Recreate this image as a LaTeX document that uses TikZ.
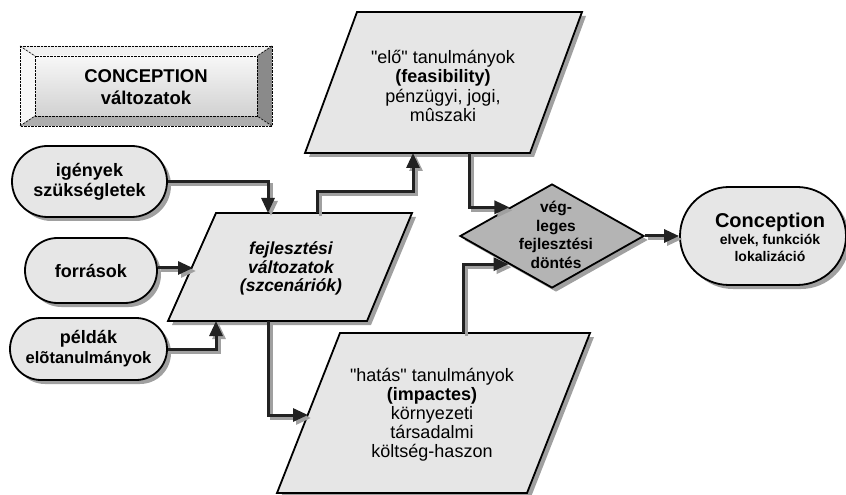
\documentclass[tikz,border=0pt]{standalone}
\usepackage{fontspec}
\setmainfont{Liberation Sans}[Ligatures=TeXOff]
\usetikzlibrary{shapes.misc,shapes.geometric,arrows.meta}
\definecolor{boxfill}{HTML}{E6E6E6}
\definecolor{diafill}{HTML}{B4B4B4}
\definecolor{shadowc}{HTML}{A0A0A0}
\definecolor{linec}{HTML}{222222}
\newcommand\fsz[2]{\fontsize{#1bp}{#2bp}\selectfont}
\newcommand\connect[1]{\draw[connshadow] #1; \draw[conn] #1;}
\begin{document}
\begin{tikzpicture}[x=1bp,y=-1bp,
  shapeline/.style={draw=black, line width=1.8bp, fill=boxfill, line join=miter},
  shad/.style={preaction={fill=shadowc, draw=none, transform canvas={xshift=4bp,yshift=-4bp}}},
  oval/.style={rounded rectangle, shapeline, shad, inner sep=0pt, align=center, font=\bfseries\fsz{18}{20}},
  conn/.style={draw=linec, line width=3bp, line join=miter, -{Triangle[length=15bp,width=13bp]}},
  connshadow/.style={conn, draw=shadowc, transform canvas={xshift=3bp,yshift=-3bp}},
  ptext/.style={align=center, inner sep=0pt},
  bevel/.style={draw=black, line width=0.6bp, dash pattern=on 2.5bp off 1bp}
]
\useasboundingbox (0,0) rectangle (846,495);

% ---- 3D title box ----
\fill[black!6] (20,46) -- (272,46) -- (257,56) -- (35,56) -- cycle;
\fill[black!3] (20,46) -- (35,56) -- (35,116) -- (20,126) -- cycle;
\fill[black!46] (272,46) -- (272,126) -- (257,116) -- (257,56) -- cycle;
\fill[black!32] (20,126) -- (35,116) -- (257,116) -- (272,126) -- cycle;
\shade[top color=black!3, bottom color=black!18] (35,56) rectangle (257,116);
\draw[bevel] (20,46) rectangle (272,126);
\draw[bevel] (35,56) rectangle (257,116);
\draw[bevel] (20,46) -- (35,56) (272,46) -- (257,56) (20,126) -- (35,116) (272,126) -- (257,116);
\node[ptext, font=\bfseries\fsz{18.5}{21.5}] (title) at (146,87) {CONCEPTION\\változatok};

% ---- left ovals ----
\node[oval, minimum width=155bp, minimum height=71bp] (igeny) at (89.5,181.5) {igények\\szükségletek};
\node[oval, minimum width=132bp, minimum height=65bp] (forr) at (91,270.5) {források};
\node[oval, minimum width=157bp, minimum height=62bp] (peld) at (88.5,349) {példák\\{\fsz{16.5}{20}elõtanulmányok}};

% ---- scenario parallelogram ----
\draw[shapeline, shad] (216,213) -- (412,213) -- (367,321) -- (168,321) -- cycle;
\node[ptext, font=\bfseries\itshape\fsz{17.5}{18.5}] (scen) at (291,268.5) {fejlesztési\\változatok\\(szcenáriók)};

% ---- feasibility parallelogram ----
\draw[shapeline, shad] (357,12) -- (582,12) -- (530,153) -- (305,153) -- cycle;
\node[ptext, font=\fsz{18}{19.5}] (feas) at (443,86) {"elő" tanulmányok\\\textbf{(feasibility)}\\pénzügyi, jogi,\\mûszaki};

% ---- impacts parallelogram ----
\draw[shapeline, shad] (340,333) -- (590,333) -- (527,493) -- (277,493) -- cycle;
\node[ptext, font=\fsz{18}{19}] (imp) at (432,415) {"hatás" tanulmányok\\\textbf{(impactes)}\\környezeti\\társadalmi\\költség-haszon};

% ---- decision diamond ----
\node[diamond, shapeline, fill=diafill, shad, minimum width=184bp, minimum height=104bp, inner sep=0pt] (dia) at (552,236) {};
\node[ptext, font=\bfseries\fsz{15.5}{18.7}] (diatext) at (556,235) {vég-\\leges\\fejlesztési\\döntés};

% ---- Conception oval ----
\node[oval, minimum width=166bp, minimum height=98bp] (conc) at (763,236) {};
\node[ptext, font=\bfseries\fsz{14}{17}] (conctext) at (770,237) {{\fsz{20}{20}Conception}\\elvek, funkciók\\lokalizáció};

% ---- connection points ----
\coordinate (s1) at (268,213);
\coordinate (s2) at (193,268);
\coordinate (s3) at (216,321);
\coordinate (s4) at (317,213);
\coordinate (s5) at (268,321);
\coordinate (f1) at (413,153);
\coordinate (f2) at (469,153);
\coordinate (i1) at (463,333);
\coordinate (i2) at (308,415);

% ---- connectors ----
\connect{(igeny.east) -| (s1)}
\connect{(forr.east |- s2) -- (s2)}
\connect{(peld.east) -| (s3)}
\connect{(s4) -- ++(0,-21) -| (f1)}
\connect{(f2) |- (dia.146.6)}
\connect{(i1) |- (dia.213.4)}
\connect{(s5) |- (i2)}
\connect{(dia.east) -- (conc.west)}
\end{tikzpicture}
\end{document}
